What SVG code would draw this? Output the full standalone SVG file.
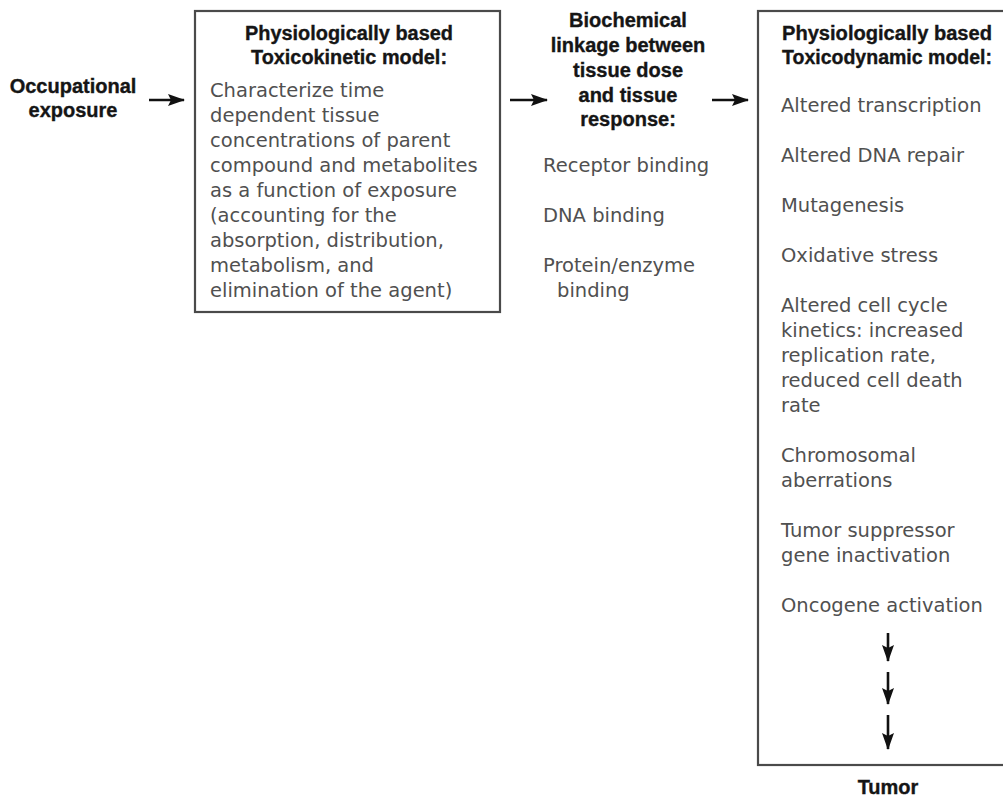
<svg xmlns="http://www.w3.org/2000/svg" width="1003" height="798" viewBox="0 0 1003 798">
  <style>
    .head { font-family: "Liberation Sans", Arial, sans-serif; font-weight: bold; font-size: 20px; fill: #151515; stroke: #151515; stroke-width: 0.35; }
    .body { font-family: "DejaVu Sans", Verdana, sans-serif; font-size: 19.5px; fill: #505050; }
    .box { fill: #fff; stroke: #4a4a4a; stroke-width: 2.2; }
    .arrow { stroke: #111; stroke-width: 2.6; fill: none; marker-end: url(#head); }
  </style>
  <defs>
    <marker id="head" markerUnits="userSpaceOnUse" markerWidth="18" markerHeight="14" refX="16" refY="7" orient="auto">
      <path d="M0,1 L17,7 L0,13 L3,7 Z" fill="#111"/>
    </marker>
  </defs>
  <rect width="1003" height="798" fill="#fff"/>

  <!-- Exposure source -->
  <g id="exposure">
    <text class="head" x="73" y="93" text-anchor="middle">Occupational</text>
    <text class="head" x="73" y="117" text-anchor="middle">exposure</text>
  </g>

  <!-- Toxicokinetic model -->
  <g id="pbtk">
    <rect class="box" x="195" y="11" width="305" height="301"/>
    <text class="head" x="349" y="40" text-anchor="middle" textLength="208" lengthAdjust="spacingAndGlyphs">Physiologically based</text>
    <text class="head" x="349" y="64" text-anchor="middle" textLength="196" lengthAdjust="spacingAndGlyphs">Toxicokinetic model:</text>
    <text class="body" x="210" y="97">Characterize time</text>
    <text class="body" x="210" y="122">dependent tissue</text>
    <text class="body" x="210" y="147">concentrations of parent</text>
    <text class="body" x="210" y="172">compound and metabolites</text>
    <text class="body" x="210" y="197">as a function of exposure</text>
    <text class="body" x="210" y="222">(accounting for the</text>
    <text class="body" x="210" y="247">absorption, distribution,</text>
    <text class="body" x="210" y="272">metabolism, and</text>
    <text class="body" x="210" y="297">elimination of the agent)</text>
  </g>

  <!-- Biochemical linkage -->
  <g id="linkage">
    <text class="head" x="628" y="27" text-anchor="middle">Biochemical</text>
    <text class="head" x="628" y="52" text-anchor="middle">linkage between</text>
    <text class="head" x="628" y="77" text-anchor="middle">tissue dose</text>
    <text class="head" x="628" y="102" text-anchor="middle">and tissue</text>
    <text class="head" x="628" y="126" text-anchor="middle">response:</text>
    <text class="body" x="543" y="172">Receptor binding</text>
    <text class="body" x="543" y="222">DNA binding</text>
    <text class="body" x="543" y="272">Protein/enzyme</text>
    <text class="body" x="557" y="297">binding</text>
  </g>

  <!-- Toxicodynamic model -->
  <g id="pbtd">
    <rect class="box" x="758" y="11" width="260" height="754"/>
    <text class="head" x="782" y="40" textLength="210" lengthAdjust="spacingAndGlyphs">Physiologically based</text>
    <text class="head" x="782" y="64" textLength="210" lengthAdjust="spacingAndGlyphs">Toxicodynamic model:</text>
    <text class="body" x="781" y="112">Altered transcription</text>
    <text class="body" x="781" y="162">Altered DNA repair</text>
    <text class="body" x="781" y="212">Mutagenesis</text>
    <text class="body" x="781" y="262">Oxidative stress</text>
    <text class="body" x="781" y="312">Altered cell cycle</text>
    <text class="body" x="781" y="337">kinetics: increased</text>
    <text class="body" x="781" y="362">replication rate,</text>
    <text class="body" x="781" y="387">reduced cell death</text>
    <text class="body" x="781" y="412">rate</text>
    <text class="body" x="781" y="462">Chromosomal</text>
    <text class="body" x="781" y="487">aberrations</text>
    <text class="body" x="781" y="537">Tumor suppressor</text>
    <text class="body" x="781" y="562">gene inactivation</text>
    <text class="body" x="781" y="612">Oncogene activation</text>
  </g>

  <!-- Outcome -->
  <g id="tumor">
    <text class="head" x="888" y="794" text-anchor="middle">Tumor</text>
  </g>

  <!-- Connectors -->
  <g id="connectors">
    <line class="arrow" x1="149" y1="100" x2="184" y2="100"/>
    <line class="arrow" x1="510" y1="100" x2="547" y2="100"/>
    <line class="arrow" x1="712" y1="100" x2="748" y2="100"/>
    <line class="arrow" x1="888" y1="633" x2="888" y2="661"/>
    <line class="arrow" x1="888" y1="672" x2="888" y2="704"/>
    <line class="arrow" x1="888" y1="715" x2="888" y2="749"/>
  </g>
</svg>
